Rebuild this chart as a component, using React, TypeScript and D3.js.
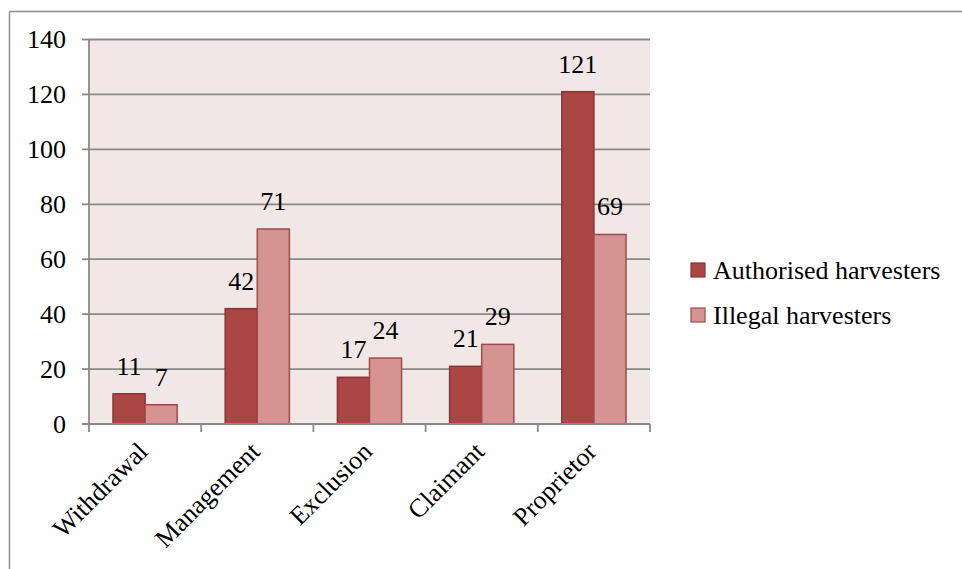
import React from "react";
import * as d3 from "d3";

const categories = ["Withdrawal", "Management", "Exclusion", "Claimant", "Proprietor"];
const seriesNames = ["Authorised harvesters", "Illegal harvesters"];
const authorised = [11, 42, 17, 21, 121];
const illegal = [7, 71, 24, 29, 69];
const yTicks = [0, 20, 40, 60, 80, 100, 120, 140];

const fills = ["#aa4745", "#d59392"];
const strokes = ["#8a3433", "#a04a4a"];
const textStyle: React.CSSProperties = {
  fontFamily: '"Liberation Serif", "DejaVu Serif", serif',
  fontSize: "26px",
};

export default function App() {
  const W = 962, H = 569;
  const left = 89, right = 650, top = 39.5, bottom = 424;

  const x0 = d3.scaleBand<string>().domain(categories).range([left, right]).padding(0);
  const bw = x0.bandwidth();
  const gap = bw * 0.214;
  const x1 = d3.scaleBand<string>().domain(seriesNames).range([gap, bw - gap]).padding(0);
  const y = d3.scaleLinear().domain([0, 140]).range([bottom, top]);

  const seriesValues = [authorised, illegal];
  const boundaries = [...categories.map((c) => x0(c)!), right];

  return (
    <svg width={W} height={H} style={{ position: "absolute", left: 0, top: 0 }}>
      <rect x={0} y={0} width={W} height={H} fill="#ffffff" />
      {/* outer frame */}
      <line x1={9.5} y1={11.5} x2={W} y2={11.5} stroke="#8c8c8c" strokeWidth={1.5} />
      <line x1={9.5} y1={11.5} x2={9.5} y2={H} stroke="#8c8c8c" strokeWidth={1.5} />

      {/* plot background */}
      <rect x={left} y={top} width={right - left} height={bottom - top} fill="#f2e7e7" />

      {/* gridlines and y ticks */}
      {yTicks.map((t) => (
        <g key={t}>
          {t > 0 && (
            <line x1={left} x2={right} y1={y(t)} y2={y(t)} stroke="#898989" strokeWidth={1.8} />
          )}
          <line x1={left - 7} x2={left} y1={y(t)} y2={y(t)} stroke="#898989" strokeWidth={1.8} />
          <text x={66} y={y(t)} dy="0.33em" textAnchor="end" style={textStyle} fill="#000">
            {t}
          </text>
        </g>
      ))}

      {/* bars */}
      {categories.map((c, i) => (
        <g key={c} transform={`translate(${x0(c)},0)`}>
          {seriesNames.map((s, k) => {
            const v = seriesValues[k][i];
            const bx = x1(s)!;
            return (
              <g key={s}>
                <rect
                  x={bx}
                  y={y(v)}
                  width={x1.bandwidth()}
                  height={bottom - y(v)}
                  fill={fills[k]}
                  stroke={strokes[k]}
                  strokeWidth={1.5}
                />
                <text
                  x={bx + x1.bandwidth() / 2}
                  y={y(v) - 19}
                  textAnchor="middle"
                  style={textStyle}
                  fill="#000"
                >
                  {v}
                </text>
              </g>
            );
          })}
        </g>
      ))}

      {/* axes */}
      <line x1={left} x2={left} y1={top} y2={bottom} stroke="#898989" strokeWidth={1.8} />
      <line x1={left - 7} x2={right} y1={bottom} y2={bottom} stroke="#898989" strokeWidth={1.8} />
      {boundaries.map((bx, i) => (
        <line key={i} x1={bx} x2={bx} y1={bottom} y2={bottom + 8} stroke="#898989" strokeWidth={1.8} />
      ))}

      {/* category labels */}
      {categories.map((c) => (
        <text
          key={c}
          transform={`translate(${x0(c)! + bw / 2 - 2},447) rotate(-45)`}
          textAnchor="end"
          dy="0.33em"
          style={textStyle}
          fill="#000"
        >
          {c}
        </text>
      ))}

      {/* legend */}
      {seriesNames.map((s, k) => (
        <g key={s} transform={`translate(691,${263 + k * 45})`}>
          <rect x={0} y={0} width={14} height={14} fill={fills[k]} stroke={strokes[k]} strokeWidth={1.2} />
          <text x={22} y={16} style={textStyle} fill="#000">
            {s}
          </text>
        </g>
      ))}
    </svg>
  );
}
